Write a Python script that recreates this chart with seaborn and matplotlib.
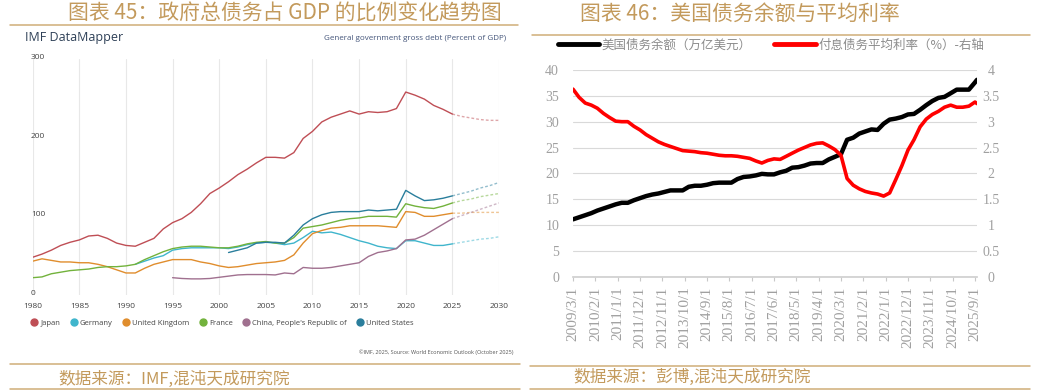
import pandas as pd
import numpy as np
import seaborn as sns
import matplotlib.pyplot as plt
from matplotlib.lines import Line2D

# ---------------- left chart data: general government gross debt, % of GDP (IMF)
country_names = ["Japan", "Germany", "United Kingdom", "France",
                 "China, People's Republic of", "United States"]
country_colors = ["#bf4e55", "#3fb5cc", "#e08d2d", "#72b23c", "#a0708f", "#2a7e9c"]
country_start = [1980, 1991, 1980, 1980, 1995, 2001]

japan = [48, 52, 57, 63, 67, 70, 75, 76, 72, 66,
         63, 62, 67, 72, 84, 92, 97, 105, 116, 129,
         136, 144, 153, 160, 168, 175, 175, 174, 181, 199,
         208, 220, 226, 230, 234, 230, 233, 232, 233, 237,
         258, 254, 249, 241, 236, 230, 227, 225, 223, 222, 222]
germany = [39, 43, 47, 50, 57, 59, 60, 60, 60,
           60, 59, 61, 64, 66, 67, 66, 64, 66, 73,
           81, 79, 80, 77, 73, 69, 66, 62, 60, 59,
           69, 69, 66, 63, 63, 65, 67, 69, 71, 72, 74]
uk = [43, 46, 44, 42, 42, 41, 41, 39, 36, 32,
      28, 28, 34, 39, 42, 45, 45, 45, 42, 40,
      37, 35, 36, 38, 40, 41, 42, 44, 51, 66,
      78, 82, 85, 86, 88, 88, 88, 88, 87, 86,
      106, 105, 100, 100, 102, 104, 104, 105, 105, 105, 105]
france = [22, 23, 27, 29, 31, 32, 33, 35, 36, 36,
          37, 39, 45, 50, 55, 59, 61, 62, 62, 61,
          60, 60, 62, 65, 67, 68, 66, 66, 73, 85,
          87, 89, 92, 95, 97, 98, 100, 100, 100, 99,
          116, 113, 111, 110, 113, 117, 120, 122, 125, 127, 129]
china = [22, 21, 20.5, 20.5, 21,
         22.5, 24, 25.5, 26, 26,
         26, 25.5, 28, 27, 35,
         34, 34, 35, 37, 39,
         41, 49, 54, 56, 59,
         70, 71, 76, 83, 90,
         97, 101, 105, 109, 113, 117]
usa = [54, 57, 60, 66, 67,
       67, 66, 76, 89, 97,
       102, 105, 106, 106, 106,
       108, 107, 108, 109, 133,
       126, 120, 121, 123, 126,
       129, 132, 136, 139, 143]
country_values = [japan, germany, uk, france, china, usa]
projection_from = 2025

imf_xticks = [1980, 1985, 1990, 1995, 2000, 2005, 2010, 2015, 2020, 2025, 2030]
imf_yticks = [0, 100, 200, 300]

# ---------------- right chart data: US debt outstanding and average interest rate
debt_dates = list(pd.date_range("2009-03-01", "2025-09-01", freq="3MS")) + [pd.Timestamp("2025-10-01")]
debt_outstanding = [11.1, 11.5, 11.9, 12.3,
                    12.8, 13.2, 13.6, 14.0,
                    14.3, 14.3, 14.8, 15.2,
                    15.6, 15.9, 16.1, 16.4,
                    16.7, 16.7, 16.7, 17.4,
                    17.6, 17.6, 17.8, 18.1,
                    18.2, 18.2, 18.2, 18.9,
                    19.3, 19.4, 19.6, 19.9,
                    19.8, 19.8, 20.2, 20.5,
                    21.1, 21.2, 21.5, 21.9,
                    22.0, 22.0, 22.7, 23.2,
                    23.7, 26.5, 26.9, 27.7,
                    28.1, 28.5, 28.4, 29.6,
                    30.4, 30.6, 30.9, 31.4,
                    31.5, 32.3, 33.2, 34.0,
                    34.6, 34.8, 35.5, 36.2,
                    36.2, 36.2, 37.6, 38.1]
avg_rate = [3.63, 3.47, 3.36, 3.32,
            3.26, 3.16, 3.08, 3.01,
            3.00, 3.00, 2.91, 2.84,
            2.75, 2.68, 2.61, 2.56,
            2.52, 2.48, 2.44, 2.43,
            2.42, 2.40, 2.39, 2.37,
            2.35, 2.34, 2.34, 2.33,
            2.31, 2.29, 2.24, 2.20,
            2.25, 2.28, 2.27, 2.33,
            2.39, 2.45, 2.50, 2.55,
            2.58, 2.59, 2.53, 2.46,
            2.35, 1.90, 1.77, 1.70,
            1.65, 1.62, 1.60, 1.56,
            1.62, 1.88, 2.15, 2.45,
            2.65, 2.90, 3.05, 3.14,
            3.20, 3.28, 3.32, 3.28,
            3.28, 3.30, 3.38, 3.35]
date_ticks = pd.date_range("2009-03-01", periods=19, freq="11MS")
date_tick_labels = [f"{d.year}/{d.month}/{d.day}" for d in date_ticks]
debt_yticks = [0, 5, 10, 15, 20, 25, 30, 35, 40]
rate_yticks = [0, 0.5, 1, 1.5, 2, 2.5, 3, 3.5, 4]
rate_ytick_labels = ["0", "0.5", "1", "1.5", "2", "2.5", "3", "3.5", "4"]

sns.set_theme(style="white")
plt.rcParams['font.family'] = ['Open Sans', 'Noto Sans CJK SC', 'DejaVu Sans']
cjk = ['Noto Sans CJK SC', 'DejaVu Sans']
gold = "#c39a5c"
gold_line = "#cfae78"

W, H = 1038, 390
fig = plt.figure(figsize=(W / 100, H / 100), dpi=100)


def fx(px):
    return px / W


def fy(py):
    return 1 - py / H


# ---------------- headers / footers
fig.text(fx(285), fy(14), "图表 45：政府总债务占 GDP 的比例变化趋势图", ha="center", va="center",
         fontsize=15, color=gold, family=cjk, fontweight="light")
fig.text(fx(740), fy(14), "图表 46：美国债务余额与平均利率", ha="center", va="center",
         fontsize=15, color=gold, family=cjk, fontweight="light")
fig.text(fx(58), fy(379), "数据来源：IMF,混沌天成研究院", ha="left", va="center",
         fontsize=12, color=gold, family=cjk, fontweight="light")
fig.text(fx(573), fy(377), "数据来源：彭博,混沌天成研究院", ha="left", va="center",
         fontsize=12, color=gold, family=cjk, fontweight="light")
for x0, x1, yy in [(10, 518, 24.5), (532, 1030, 35), (10, 520, 364), (10, 520, 388.5),
                   (530, 1030, 366), (530, 1030, 388.5)]:
    fig.add_artist(Line2D([fx(x0), fx(x1)], [fy(yy), fy(yy)], color=gold_line, lw=1.1))

# ---------------- left chart
rows = []
for name, start, vals in zip(country_names, country_start, country_values):
    for i, v in enumerate(vals):
        rows.append({"year": start + i, "debt": v, "country": name})
imf = pd.DataFrame(rows)
hist = imf[imf["year"] <= projection_from]
proj = imf[imf["year"] >= projection_from]
palette = dict(zip(country_names, country_colors))

ax1 = fig.add_axes([fx(32.7), fy(295), fx(499) - fx(32.7), (295 - 59) / H])
sns.lineplot(data=hist, x="year", y="debt", hue="country", hue_order=country_names,
             palette=palette, lw=1.0, legend=False, ax=ax1)
sns.lineplot(data=proj, x="year", y="debt", hue="country", hue_order=country_names,
             palette=palette, lw=1.0, alpha=0.5, linestyle=(0, (2, 1.5)), legend=False, ax=ax1)
ax1.set_xlim(1980, 2030)
ax1.set_ylim(0, 300)
ax1.set_xticks(imf_xticks)
ax1.set_yticks(imf_yticks)
ax1.set_yticklabels([str(v) for v in imf_yticks])
ax1.set_xlabel("")
ax1.set_ylabel("")
ax1.grid(axis="x", color="#e8e8e8", lw=0.8)
for s in ax1.spines.values():
    s.set_visible(False)
ax1.tick_params(axis="x", length=0, pad=6, labelsize=6, labelcolor="#444444")
ax1.tick_params(axis="y", length=0, pad=1.2, labelsize=6, labelcolor="#444444")
plt.setp(ax1.get_yticklabels(), ha="left", va="baseline")

fig.text(fx(25), fy(38), "IMF DataMapper", ha="left", va="center", fontsize=9, color="#2e4057")
fig.text(fx(506), fy(38), "General government gross debt (Percent of GDP)", ha="right", va="center",
         fontsize=5.8, color="#44557a")
fig.text(fx(513), fy(352), "©IMF, 2025, Source: World Economic Outlook (October 2025)", ha="right",
         va="center", fontsize=4, color="#555555")

handles = [Line2D([], [], marker="o", ls="", color=c, markersize=5) for c in country_colors]
fig.legend(handles, country_names, loc="center left", bbox_to_anchor=(fx(31), fy(323)), ncol=6,
           frameon=False, fontsize=5.5, labelcolor="#444444", handletextpad=0.35,
           handlelength=0.9, columnspacing=1.3, borderpad=0, borderaxespad=0)

# ---------------- right chart
us = pd.DataFrame({"date": debt_dates, "debt": debt_outstanding, "rate": avg_rate})
ax2 = fig.add_axes([fx(573), fy(276.7), fx(977) - fx(573), (276.7 - 70) / H])
sns.lineplot(data=us, x="date", y="debt", color="black", lw=3.2, ax=ax2)
ax3 = ax2.twinx()
sns.lineplot(data=us, x="date", y="rate", color="#ff0000", lw=2.6, ax=ax3)

ax2.set_xlim(pd.Timestamp("2009-03-01"), pd.Timestamp("2025-10-01"))
ax2.set_ylim(0, 40)
ax3.set_ylim(0, 4)
ax2.set_xlabel("")
ax2.set_ylabel("")
ax3.set_ylabel("")
ax2.set_yticks(debt_yticks)
ax2.set_yticklabels([str(v) for v in debt_yticks], fontfamily="Liberation Serif",
                    fontsize=10, color="#a0a0a0")
ax3.set_yticks(rate_yticks)
ax3.set_yticklabels(rate_ytick_labels, fontfamily="Liberation Serif", fontsize=10, color="#a0a0a0")
ax2.set_xticks(date_ticks)
ax2.set_xticklabels(date_tick_labels, rotation=90, fontfamily="Liberation Serif",
                    fontsize=11, color="#a0a0a0")
ax2.grid(axis="y", color="#d9d9d9", lw=0.8)
ax2.grid(axis="x", visible=False)
ax3.grid(False)
for s in list(ax2.spines.values()) + list(ax3.spines.values()):
    s.set_visible(False)
ax2.spines["bottom"].set_visible(True)
ax2.spines["bottom"].set_color("#d0d0d0")
ax2.tick_params(axis="x", bottom=True, length=3, width=0.8, color="#c8c8c8", pad=4)
ax2.tick_params(axis="y", length=0, pad=10)
ax3.tick_params(axis="y", length=0, pad=10)
plt.setp(ax3.get_yticklabels(), ha="center")

legend_handles = [Line2D([], [], color="black", lw=3.5), Line2D([], [], color="#ff0000", lw=3.5)]
fig.legend(legend_handles, ["美国债务余额（万亿美元）", "付息债务平均利率（%）-右轴"],
           loc="center", bbox_to_anchor=(fx(771), fy(45)), ncol=2, frameon=False,
           prop={"family": cjk, "size": 9}, labelcolor="#8c8c8c", handlelength=3.3,
           handletextpad=0.2, columnspacing=1.8, borderpad=0, borderaxespad=0)

fig.savefig("out.png", dpi=100)
